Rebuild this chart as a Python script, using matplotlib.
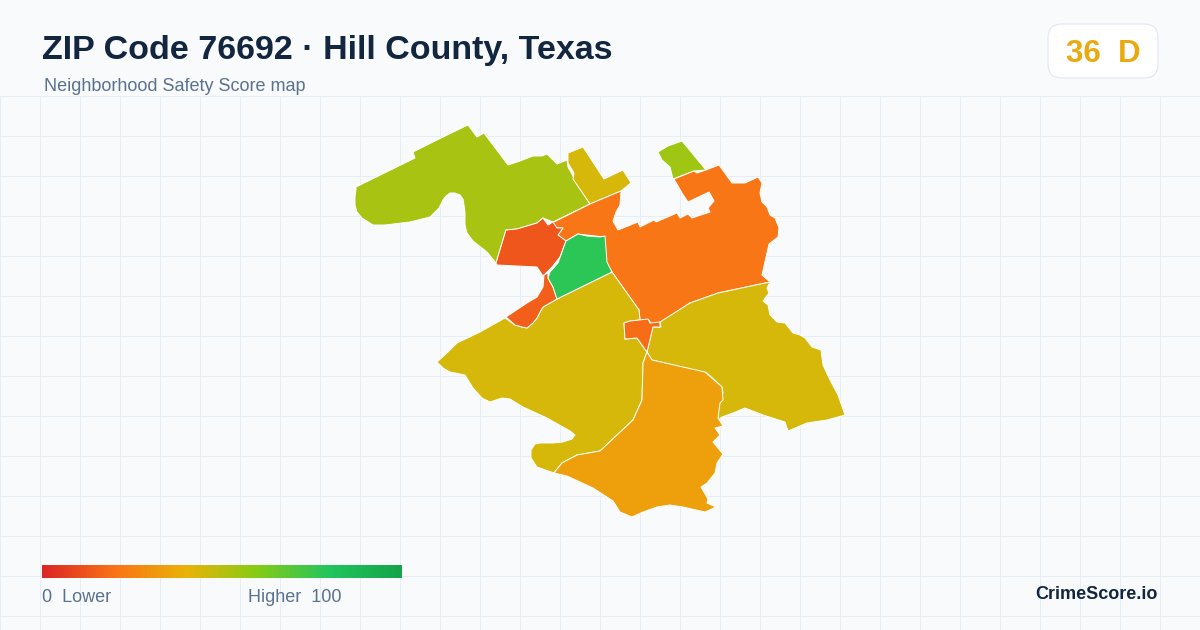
import numpy as np
import matplotlib
matplotlib.use("Agg")
import matplotlib.pyplot as plt
from matplotlib.colors import LinearSegmentedColormap, Normalize
from matplotlib.patches import Polygon, FancyBboxPatch

plt.rcParams['font.family'] = ['Liberation Sans', 'DejaVu Sans']

# Map geometry, traced in canvas units (x right, y down)
north_west = [(356,187),(415,158),(413,152),(443,137),(468,125),(477,137),(484,133),(508,165),(520,161),(533,156),(542,156),(547,154),(557,164),(567,160),(568,167),(574,178),(590,204),(553,222),(543,218),(537,223),(517,229),(506,230),(496,263),(487,252),(473,241),(467,233),(465,225),(465,213),(464,205),(463,199),(460,195),(455,193),(450,193),(446,196),(443,200),(439,208),(430,217),(410,222),(385,225),(373,225),(362,218),(357,212),(355,205),(355,197),(356,190)]
north_strip = [(568,153),(583,147),(604,179),(623,170),(631,183),(621,191),(590,204),(573,179),(574,173),(568,163)]
north_tip = [(658,152),(668,146),(682,141),(706,170),(694,171),(673,179),(670,167),(662,160)]
central_east = [(550,224),(590,204),(621,191),(620,205),(616,212),(613,221),(618,230),(638,222),(640,227),(654,220),(656,222),(677,213),(680,218),(688,214),(692,218),(710,212),(708,208),(714,201),(709,192),(688,202),(682,193),(674,179),(694,171),(697,173),(706,170),(719,165),(732,183),(745,183),(758,177),(762,183),(760,193),(762,202),(767,207),(770,215),(775,218),(779,228),(778,237),(769,244),(762,275),(770,282),(718,293),(690,303),(661,322),(652,325),(649,320),(640,320),(639,310),(612,272),(606,263),(604,237),(578,234),(566,241),(558,235),(563,228),(557,228)]
west_upper = [(506,230),(517,229),(537,223),(543,218),(548,225),(553,222),(557,228),(563,228),(558,235),(566,241),(560,257),(552,267),(543,276),(537,267),(497,265),(496,263)]
west_lower = [(548,273),(544,275),(543,287),(537,297),(527,303),(506,317),(515,325),(522,327),(527,328),(533,323),(537,318),(540,312),(543,307),(557,299),(553,287),(548,278)]
center_green = [(566,241),(578,234),(587,236),(600,237),(605,236),(607,262),(612,272),(557,299),(553,287),(548,278),(550,272),(558,263)]
south_west = [(505,318),(515,325),(522,327),(527,328),(533,323),(537,318),(540,312),(543,307),(557,299),(612,272),(639,310),(640,320),(630,321),(624,323),(625,339),(637,338),(647,352),(643,363),(642,400),(633,420),(600,451),(577,455),(562,463),(554,473),(537,467),(531,458),(531,450),(535,444),(540,443),(553,443),(563,442),(572,439),(575,435),(570,431),(547,418),(523,407),(510,399),(502,398),(490,402),(482,398),(473,388),(465,375),(450,372),(443,368),(437,362),(448,352),(457,343),(480,332)]
town = [(624,323),(630,321),(648,319),(650,323),(660,322),(660,327),(653,327),(647,352),(637,338),(625,339)]
south_east = [(770,282),(718,293),(690,303),(660,322),(661,327),(653,327),(647,352),(652,360),(707,373),(722,387),(723,393),(719,403),(718,420),(722,417),(733,413),(745,408),(763,415),(785,422),(788,431),(807,423),(827,420),(845,415),(838,395),(830,380),(823,365),(821,350),(812,347),(805,338),(800,335),(793,333),(785,323),(777,322),(770,315),(768,305),(763,301),(769,293),(767,288)]
south = [(554,473),(562,463),(577,455),(600,451),(633,420),(642,400),(643,363),(647,352),(652,360),(705,372),(722,387),(723,400),(720,403),(718,418),(723,426),(715,428),(720,435),(713,442),(723,454),(717,463),(715,473),(707,483),(701,487),(708,499),(707,503),(716,507),(705,512),(683,507),(670,505),(657,507),(643,512),(632,517),(620,512),(613,501),(593,488),(567,476)]

areas = [north_west, north_strip, north_tip, central_east, south_west, south_east, south, west_upper, west_lower, center_green, town]
scores = [53, 44, 55, 21, 44, 44, 34, 12.5, 15, 78, 18.5]

scale_stops = [0, 20, 40, 60, 80, 100]
scale_colors = ['#dc2626', '#f97316', '#eab308', '#84cc16', '#22c55e', '#16a34a']

title = 'ZIP Code 76692 · Hill County, Texas'
subtitle = 'Neighborhood Safety Score map'
overall_score = 36
overall_grade = 'D'
brand = 'CrimeScore.io'

cmap = LinearSegmentedColormap.from_list('safety', [(s / 100, c) for s, c in zip(scale_stops, scale_colors)])
norm = Normalize(0, 100)

fig = plt.figure(figsize=(12, 6.3), dpi=100, facecolor='#f8fafc')
ax = fig.add_axes([0, 0, 1, 1])
ax.set_xlim(0, 1200)
ax.set_ylim(630, 0)
ax.axis('off')

GRID = '#e5eef5'
ax.vlines(np.arange(0, 1200, 40), 96, 630, color=GRID, lw=0.72, zorder=1)
ax.hlines(np.arange(96, 630, 40), 0, 1200, color=GRID, lw=0.72, zorder=1)

for pts, score in zip(areas, scores):
    ax.add_patch(Polygon(pts, closed=True, facecolor=cmap(norm(score)), edgecolor='white',
                         lw=0.7, joinstyle='round', zorder=3))

ax.text(42, 59.5, title, fontsize=24.47, fontweight='bold', color='#12263f', ha='left', va='baseline', zorder=5)
ax.text(44, 91, subtitle, fontsize=12.95, color='#5a7190', ha='left', va='baseline', zorder=5)

ax.add_patch(FancyBboxPatch((1062, 38), 82, 26, boxstyle='round,pad=14,rounding_size=14',
                            facecolor='white', edgecolor='#e2e8f0', lw=0.8, zorder=4))
ax.text(1103, 62, f'{overall_score}  {overall_grade}', fontsize=22.5, fontweight='bold',
        color='#eaa90f', ha='center', va='baseline', zorder=5)

grad = np.linspace(0, 100, 361).reshape(1, -1)
ax.imshow(grad, extent=(42, 402, 578, 565), cmap=cmap, norm=norm, aspect='auto', zorder=4, interpolation='bilinear')
ax.set_xlim(0, 1200)
ax.set_ylim(630, 0)

ax.text(42, 602, '0  Lower', fontsize=12.95, color='#5a7190', ha='left', va='baseline', zorder=5)
ax.text(342, 602, 'Higher  100', fontsize=12.95, color='#5a7190', ha='right', va='baseline', zorder=5)
ax.text(1158, 599, brand, fontsize=13.0, fontweight='bold', color='#12263f', ha='right', va='baseline', zorder=5)

fig.savefig('out.png', dpi=100, facecolor=fig.get_facecolor())
